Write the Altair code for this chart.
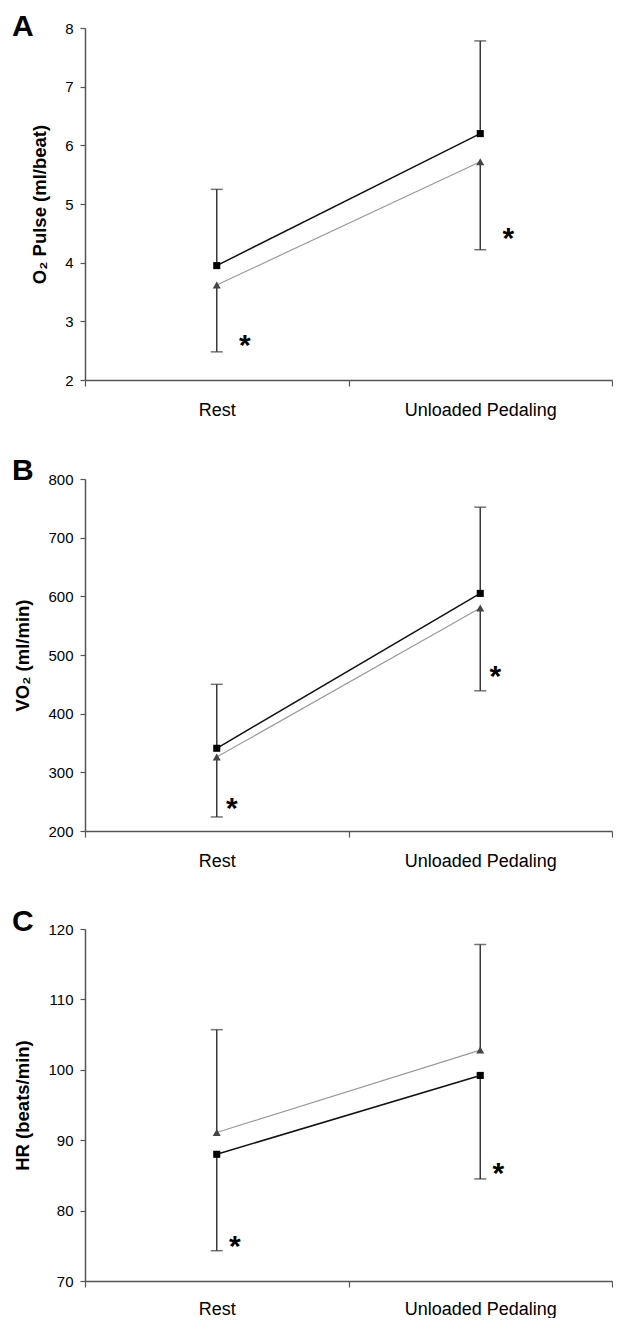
import altair as alt
import pandas as pd

FONT = "Liberation Sans"
phases = ["Rest", "Unloaded Pedaling"]

# Panel A: O2 pulse (ml/beat)
a_square = [3.95, 6.20]
a_square_err = [5.25, 7.78]
a_tri = [3.62, 5.72]
a_tri_err = [2.48, 4.22]
a_star = [2.68, 4.50]
a_ticks = [2, 3, 4, 5, 6, 7, 8]

# Panel B: VO2 (ml/min)
b_square = [341, 605]
b_square_err = [450, 752]
b_tri = [326, 580]
b_tri_err = [224, 439]
b_star = [247, 473]
b_ticks = [200, 300, 400, 500, 600, 700, 800]

# Panel C: HR (beats/min)
c_square = [88.0, 99.2]
c_square_err = [74.3, 84.5]
c_tri = [91.1, 102.8]
c_tri_err = [105.7, 117.8]
c_star = [75.7, 86.1]
c_ticks = [70, 80, 90, 100, 110, 120]


def panel(letter, ytitle, ticks, sq, sq_err, tri, tri_err, star,
          width, letter_y, star_dx, label_pad):
    df = pd.DataFrame({
        "phase": phases * 2,
        "series": ["sq"] * 2 + ["tri"] * 2,
        "mean": sq + tri,
        "err": sq_err + tri_err,
    })
    sdf = pd.DataFrame({"phase": phases, "star": star})
    ldf = pd.DataFrame({"t": [letter]})

    xenc = alt.X(
        "phase:N", sort=phases,
        scale=alt.Scale(domain=phases, paddingInner=0, paddingOuter=0),
        axis=alt.Axis(title=None, labelAngle=0, tickBand="extent", tickSize=6,
                      labelPadding=label_pad, labelFontSize=18,
                      labelColor="#000", domainColor="#555", tickColor="#555",
                      domainWidth=1.5, tickWidth=1.2, grid=False,
                      labelFont=FONT),
    )
    yscale = alt.Scale(domain=[ticks[0], ticks[-1]], nice=False, zero=False)
    yaxis = alt.Axis(title=ytitle, values=ticks, tickSize=5, labelPadding=7,
                     labelFontSize=15, labelColor="#000", titleFontSize=18.5,
                     titleFontWeight="bold", titleColor="#000", titlePadding=15,
                     domainColor="#555", tickColor="#555", domainWidth=1.5,
                     tickWidth=1.2, grid=False, labelFont=FONT, titleFont=FONT)

    def y(field):
        return alt.Y(f"{field}:Q", scale=yscale, axis=yaxis, title=ytitle)

    base = alt.Chart(df)
    tri_line = base.transform_filter("datum.series == 'tri'").mark_line(
        color="#9a9a9a", strokeWidth=1.2).encode(x=xenc, y=y("mean"))
    sq_line = base.transform_filter("datum.series == 'sq'").mark_line(
        color="#111111", strokeWidth=1.5).encode(x=xenc, y=y("mean"))
    rule = base.mark_rule(color="#3a3a3a", strokeWidth=1.5).encode(
        x=xenc, y=y("mean"), y2="err:Q")
    cap = base.mark_tick(color="#3a3a3a", thickness=1.5, size=12).encode(
        x=xenc, y=y("err"))
    sq_pts = base.transform_filter("datum.series == 'sq'").mark_point(
        shape="square", filled=True, size=50, color="#000", opacity=1).encode(
        x=xenc, y=y("mean"))
    tri_pts = base.transform_filter("datum.series == 'tri'").mark_point(
        shape="triangle-up", filled=True, size=65, color="#454545",
        opacity=1).encode(x=xenc, y=y("mean"))
    stars = alt.Chart(sdf).mark_text(
        text="*", fontSize=30, fontWeight="bold", font=FONT, color="#000",
        baseline="alphabetic", dx=star_dx, dy=15).encode(x=xenc, y=y("star"))
    lab = alt.Chart(ldf).mark_text(
        align="left", baseline="alphabetic", fontSize=30, fontWeight="bold",
        font=FONT, color="#000").encode(
        x=alt.value(-73), y=alt.value(letter_y), text="t:N")

    return alt.layer(tri_line, sq_line, rule, cap, sq_pts, tri_pts, stars,
                     lab).properties(width=width, height=352)


pA = panel("A", "O₂ Pulse (ml/beat)", a_ticks, a_square, a_square_err,
           a_tri, a_tri_err, a_star, 527, 8, 28, 15)
pB = panel("B", "VO₂ (ml/min)", b_ticks, b_square, b_square_err,
           b_tri, b_tri_err, b_star, 527, 1, 15, 15)
pC = panel("C", "HR (beats/min)", c_ticks, c_square, c_square_err,
           c_tri, c_tri_err, c_star, 527, 2, 18, 13)

chart = alt.vconcat(pA, pB, pC, spacing=37).properties(
    padding={"left": 4, "top": 4, "right": 0, "bottom": 0},
    background="white",
).configure_view(stroke=None)

chart.save("out.html", embed_options={"renderer": "svg", "actions": False})
